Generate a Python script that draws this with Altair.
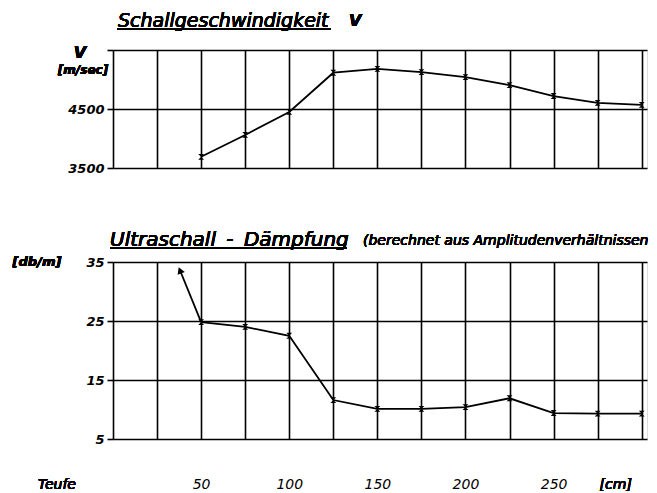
import altair as alt
import pandas as pd

# ---- data ----
depth = [50, 75, 100, 125, 150, 175, 200, 225, 250, 275, 300]          # Teufe [cm]
velocity = [3690, 4060, 4450, 5115, 5180, 5125, 5040, 4905, 4720, 4605, 4570]  # V [m/sec]
damping = [24.8, 24.0, 22.5, 11.6, 10.1, 10.1, 10.4, 11.9, 9.4, 9.3, 9.3]      # [db/m]
arrow_depth = [50, 38]
arrow_damping = [24.8, 33.6]

grid_x = list(range(0, 301, 25))
v_ticks = [3500, 4500, 5500]
d_ticks = [5, 15, 25, 35]
x_label_ticks = [50, 100, 150, 200, 250]

df = pd.DataFrame({"depth": depth, "velocity": velocity, "damping": damping})
arrow_df = pd.DataFrame({"depth": arrow_depth, "damping": arrow_damping, "order": [0, 1]})
head_df = arrow_df.iloc[[1]]

FONT = "DejaVu Sans"
W, H1, H2 = 534, 118, 177
XDOM = [0, 303]
GRID_W = 1.6
MARKER = "M-1,-1L1,-1L-1,1L1,1Z"
NB = "\u00a0"
TH = "\u2009"

def x_enc(show_labels):
    lbl = "indexof([50,100,150,200,250], datum.value) >= 0 ? datum.label : ''"
    return alt.X(
        "depth:Q",
        scale=alt.Scale(domain=XDOM, nice=False, zero=False),
        axis=alt.Axis(
            values=grid_x, grid=True, gridColor="black", gridWidth=GRID_W,
            ticks=False, domain=False, title=None,
            labels=show_labels, labelExpr=lbl, labelPadding=38,
            labelFont=FONT, labelFontSize=14, labelFontStyle="italic",
            labelColor="black",
        ),
    )

def y_axis(values, hide_top=None):
    kw = {}
    if hide_top is not None:
        kw["labelExpr"] = f"datum.value == {hide_top} ? '' : datum.label"
    return alt.Axis(
        values=values, grid=True, gridColor="black", gridWidth=GRID_W,
        ticks=True, tickColor="black", tickSize=6, tickWidth=GRID_W,
        domain=False, title=None, format="d",
        labelFont=FONT, labelFontSize=13, labelFontStyle="italic",
        labelFontWeight="bold", labelColor="black", labelPadding=3, **kw,
    )

def label(text, x, y, dx, dy, size=13, align="center", weight="bold"):
    return alt.Chart(df).mark_text(
        text=text, font=FONT, fontSize=size, fontStyle="italic",
        fontWeight=weight, color="black", align=align, baseline="middle",
        dx=dx, dy=dy,
    ).encode(x=alt.datum(x), y=alt.datum(y))

def underline(x1, x2, y):
    return alt.Chart(df).mark_rule(color="black", strokeWidth=1.4).encode(
        x=alt.value(x1), x2=alt.value(x2), y=alt.value(y)
    )

# ---- top panel: Schallgeschwindigkeit ----
yv = alt.Y("velocity:Q", scale=alt.Scale(domain=[3500, 5500], nice=False, zero=False),
           axis=y_axis(v_ticks, hide_top=5500))
top_line = alt.Chart(df).mark_line(color="black", strokeWidth=1.8).encode(x=x_enc(False), y=yv)
top_pts = alt.Chart(df).mark_point(shape=MARKER, filled=True, color="black", size=34, opacity=1).encode(
    x="depth:Q", y="velocity:Q")

top = alt.layer(
    top_line, top_pts,
    label("Schallgeschwindigkeit", 0, 5500, 5, -29, size=19, align="left", weight="normal"),
    label("V", 0, 5500, 236, -29, size=16, align="left", weight="bold"),
    label("V", 0, 5500, -33, 3, size=16),
    label("[m/sec]", 0, 5500, -30, 20, size=12),
    underline(4, 218, -21),
).properties(width=W, height=H1)

# ---- bottom panel: Ultraschall-Dämpfung ----
yd = alt.Y("damping:Q", scale=alt.Scale(domain=[5, 35], nice=False, zero=False),
           axis=y_axis(d_ticks))
bot_line = alt.Chart(df).mark_line(color="black", strokeWidth=1.8).encode(x=x_enc(True), y=yd)
bot_pts = alt.Chart(df).mark_point(shape=MARKER, filled=True, color="black", size=34, opacity=1).encode(
    x="depth:Q", y="damping:Q")
arrow_line = alt.Chart(arrow_df).mark_line(color="black", strokeWidth=1.8).encode(
    x="depth:Q", y="damping:Q", order="order:Q")
arrow_head = alt.Chart(head_df).mark_point(shape="triangle-up", filled=True, color="black",
                                           size=60, angle=338, opacity=1).encode(
    x="depth:Q", y="damping:Q")

bottom = alt.layer(
    bot_line, bot_pts, arrow_line, arrow_head,
    label(f"Ultraschall{NB}{TH}-{NB}{TH}Dämpfung", 0, 35, -3, -22, size=20, align="left", weight="normal"),
    label("(berechnet aus Amplitudenverhältnissen", 0, 35, 250, -21, size=14, align="left", weight="normal"),
    label("[db/m]", 0, 35, -76, 0, size=13),
    label("Teufe", 0, 5, -56, 46, size=14, weight="normal"),
    label("[cm]", 300, 5, -26, 46, size=14, weight="normal"),
    underline(-3, 234, -14),
).properties(width=W, height=H2)

chart = alt.vconcat(top, bottom, spacing=94, bounds="flush").properties(
    padding={"left": 4, "top": 3, "right": 0, "bottom": 0}
).configure_view(stroke=None).configure(background="white")

chart.save("out.html", embed_options={"renderer": "svg", "actions": False})
